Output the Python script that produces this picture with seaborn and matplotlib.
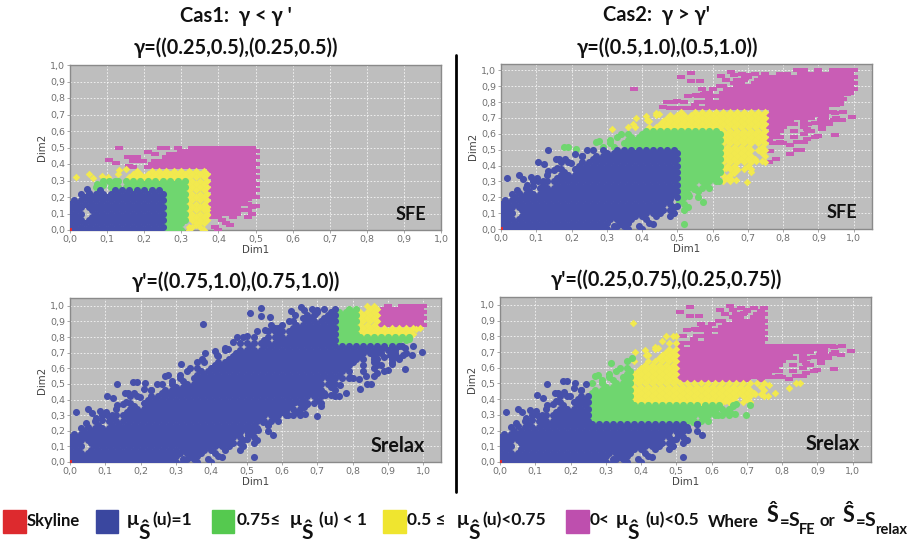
import matplotlib
matplotlib.use('Agg')
import matplotlib.pyplot as plt
from matplotlib.patches import Rectangle
import seaborn as sns
import numpy as np
import pandas as pd

# Dense part of the point cloud, one string per Dim2 level
# from 1.00 down to 0.00 (step 0.02), one char per Dim1 column (step 0.02)
cloud_rows = [
    "..........................................##.#.#####",
    ".....................................#.##.##########",
    "...................................#.###############",
    ".................................##.################",
    "..................................#.################",
    "...............................#.###################",
    "................................####################",
    ".............................#.####################.",
    "............................#####################...",
    ".............................#.##################...",
    "..........................#.#####################...",
    "...........................#.###################....",
    "........................#######################.....",
    ".........................#.####################.#...",
    "......................#.#####################.#.....",
    ".......................#####################.#......",
    ".....................#.###################.#........",
    "......................####################.#.#......",
    "...................#.####################..#.........",
    "....................####################.#.#........",
    "..................#.####################...#.........",
    "................#.######################.#..........",
    "..................#####################.............",
    "...............#.#######################............",
    "................#.##################.#...............",
    "..............#.######################..............",
    "...............#####################.#..............",
    "...........#.#######################.#...............",
    ".............########################...............",
    ".........#.#########################.#...............",
    "...........#######################.#.................",
    "........#.##########################................",
    ".........#.#####################.#...................",
    "......#.#########################...................",
    "........#######################.#....................",
    "....#.###########################...................",
    "......#.####################.#.......................",
    "...#.#########################......................",
    "....#.#####################.#........................",
    ".#.########################.........................",
    "..#########################.#.......................",
    "########################.#...........................",
    "#########################.#..........................",
    "#######################.#.#...........................",
    "##.######################.#..........................",
    "##.####################.#............................",
    "##.##################.#.#............................",
    "###################.#...............................",
    "################.##..#..............................",
    "###############.##.#................................",
    "#################.#.#................................",
]

# Loose points around the cloud
extra_dim1 = [.377, .51, .54, .54, .565, .625, .653, .662, .684, .693, .637, .995, .948, .90, .851, .819,
              .838, .868, .868, .91, .925, .943, .967, .948, .906, .877, .792, .80, .74, .722, .698, .665,
              .651, .662, .637, .618, .585, .547, .533, .505, .50, .574, .52, .43, .443, .448, .42, .387,
              .368, .33, .132, .179, .19, .212, .245, .106, .123, .132, .156, .165, .158, .181, .198, .017,
              .05, .061, .085, .102, .106, .074, .09, .045, .052, .269, .278, .314, .373, .382, .415, .448,
              .472, .50, .575, .552, .60, .58, .62, .66, .70, .72, .88, .90, .92, .86, .88, .89, .93, .95,
              .764, .96, .98, .99, .94, .91, .12, .15, .17, .21, .23, .26, .29, .31, .34, .36, .41, .44,
              .46, .49, .53, .57, .59, .61, .67, .71, .76, .78, .82, .84, .86, .89, .91, .56, .52, .48,
              .32, .34, .35, .33, .36, .35, .34, .36, .33, .37]
extra_dim2 = [.885, .955, .985, .932, .93, .965, .99, .97, .98, .95, .94, .705, .595, .588, .50, .53,
              .55, .567, .63, .63, .673, .688, .684, .732, .684, .715, .546, .54, .43, .43, .297, .308,
              .316, .355, .386, .30, .30, .253, .206, .174, .146, .17, .032, .032, .121, .153, .117, .11,
              .09, .068, .497, .514, .514, .503, .499, .425, .408, .365, .44, .44, .386, .444, .418, .32,
              .34, .316, .329, .323, .30, .28, .27, .248, .227, .55, .556, .63, .662, .70, .684, .726,
              .80, .805, .853, .847, .88, .86, .90, .92, .97, .98, .70, .72, .70, .66, .62, .67, .66, .70,
              .49, .79, .85, .88, .74, .76, .30, .37, .42, .47, .46, .50, .52, .56, .60, .64, .71, .73,
              .77, .80, .84, .88, .39, .33, .37, .36, .42, .44, .47, .50, .55, .58, .64, .24, .22, .19,
              .02, .03, .05, .06, .08, .10, .13, .14, .09, .12]
skyline_dim1 = [0.0]
skyline_dim2 = [0.0]

# Membership limits of each panel (blue, green, yellow, magenta)
limits_sfe1 = [.25, .3125, .375, .5]
limits_sfe2 = [.5, .625, .75, 1.0]
limits_relax1 = [.75, .8125, .875, 1.0]
limits_relax2 = [.25, .375, .5, .75]

tick_values = [0, .1, .2, .3, .4, .5, .6, .7, .8, .9, 1.0]
tick_labels = ['0,0', '0,1', '0,2', '0,3', '0,4', '0,5', '0,6', '0,7', '0,8', '0,9', '1,0']

BLUE = '#4650AA'
GREEN = '#6FD66F'
YELLOW = '#F2E94E'
MAGENTA = '#C95DB5'
RED = '#DD2A2E'
RECT = [(-1, -.5), (1, -.5), (1, .5), (-1, .5), (-1, -.5)]

W, H = 915, 545
sns.set_theme(style='white')
plt.rcParams['font.family'] = ['Lato', 'DejaVu Sans']

fig = plt.figure(figsize=(W / 100, H / 100), dpi=100)


def load_cloud():
    xs, ys = [], []
    for r, row in enumerate(cloud_rows):
        for c, ch in enumerate(row):
            if ch == '#':
                # every other row sits half a column over
                xs.append(c * .02 + (.01 if r % 2 else 0))
                ys.append(1 - r * .02)
    xs = np.array(xs + extra_dim1)
    ys = np.array(ys + extra_dim2)
    keep = (xs <= 1.0) & (ys <= 1.0)
    return pd.DataFrame({'dim1': xs[keep], 'dim2': ys[keep]})


def add_panel(cloud, box, xtop, ytop, limits, use_max):
    left, top, right, bottom = box
    ax = fig.add_axes([left / W, 1 - bottom / H, (right - left) / W, (bottom - top) / H])
    ax.set_facecolor('#BEBEBE')
    score = cloud[['dim1', 'dim2']].max(axis=1) if use_max else cloud[['dim1', 'dim2']].min(axis=1)
    level = np.digitize(score, limits, right=True)
    styles = [(3, MAGENTA, RECT, 30), (2, YELLOW, 'D', 15), (1, GREEN, 'o', 26), (0, BLUE, 'o', 26)]
    for lev, color, marker, size in styles:
        part = cloud[level == lev]
        sns.scatterplot(data=part, x='dim1', y='dim2', color=color, marker=marker, s=size,
                        linewidth=0, ax=ax, zorder=3, clip_on=True)
    sns.scatterplot(x=skyline_dim1, y=skyline_dim2, color=RED, marker='s', s=10, linewidth=0, ax=ax, zorder=4)
    ax.set_xlim(0, xtop)
    ax.set_ylim(0, ytop)
    ax.set_xticks(tick_values)
    ax.set_yticks(tick_values)
    ax.set_xticklabels(tick_labels, family='DejaVu Sans', fontsize=6.8, color='#707070')
    ax.set_yticklabels(tick_labels, family='DejaVu Sans', fontsize=6.8, color='#707070')
    ax.tick_params(length=2, width=.6, color='#999999', pad=1.5, left=True, bottom=True)
    ax.grid(True, color='white', linestyle=(0, (2, 2)), linewidth=.6, alpha=.85)
    ax.set_axisbelow(True)
    ax.set_xlabel('Dim1', family='DejaVu Sans', fontsize=7.4, color='#444444', labelpad=1)
    ax.set_ylabel('Dim2', family='DejaVu Sans', fontsize=7.4, color='#444444', labelpad=2)
    for side in ax.spines.values():
        side.set_color('#8A8A8A')
        side.set_linewidth(1.0)
    return ax


def txt(x, y, s, size=12, weight='bold', color='#111111', ha='left', **kw):
    fig.text(x / W, 1 - y / H, s, fontsize=size, fontweight=weight, color=color, ha=ha, va='center', **kw)


def swatch(left, right, color):
    fig.patches.append(Rectangle((left / W, 1 - 533 / H), (right - left) / W, 23 / H, color=color,
                                 transform=fig.transFigure))


cloud = load_cloud()
add_panel(cloud, (70, 65, 441, 230), 1.0, 1.0, limits_sfe1, True)
add_panel(cloud, (501, 64, 872, 229), 1.052, 1.04, limits_sfe2, True)
add_panel(cloud, (70, 298, 441, 462), 1.05, 1.05, limits_relax1, False)
add_panel(cloud, (500, 297, 871, 462), 1.052, 1.05, limits_relax2, False)

# divider between the two cases
fig.add_artist(plt.Line2D([456 / W, 456 / W], [1 - 55 / H, 1 - 492 / H], color='black', linewidth=2))

# headings
txt(236, 16, 'Cas1:  γ < γ \'', size=14.5, ha='center')
txt(656, 15, 'Cas2:  γ > γ\'', size=14.5, ha='center')
txt(236, 48, 'γ=((0.25,0.5),(0.25,0.5))', size=14.3, ha='center')
txt(667, 48, 'γ=((0.5,1.0),(0.5,1.0))', size=14.3, ha='center')
txt(236, 282, 'γ\'=((0.75,1.0),(0.75,1.0))', size=14.3, ha='center')
txt(666, 280, 'γ\'=((0.25,0.75),(0.25,0.75))', size=14.3, ha='center')
txt(411, 214, 'SFE', size=13, ha='center')
txt(842, 212, 'SFE', size=13, ha='center')
txt(398, 446, 'Srelax', size=14.2, ha='center')
txt(833, 444, 'Srelax', size=14.2, ha='center')

# legend row
swatch(3, 26, RED)
txt(27, 521, 'Skyline', size=12)
swatch(96, 118, '#3A479F')
txt(127, 520, 'μ', size=14)
txt(144, 533, 'Ŝ', size=15, ha='center')
txt(152, 520, '(u)=1', size=12.5)
swatch(212, 234, '#55C94F')
txt(237, 520, '0.75≤', size=12.5)
txt(290, 520, 'μ', size=14)
txt(307, 533, 'Ŝ', size=15, ha='center')
txt(319, 520, '(u) < 1', size=12.5)
swatch(383, 406, '#EFE52F')
txt(407, 520, '0.5 ≤', size=12.5)
txt(457, 520, 'μ', size=14)
txt(474, 533, 'Ŝ', size=15, ha='center')
txt(482, 520, '(u)<0.75', size=12.5)
swatch(566, 589, '#BE4FAE')
txt(590, 520, '0<', size=12.5)
txt(616, 520, 'μ', size=14)
txt(633, 533, 'Ŝ', size=15, ha='center')
txt(645, 520, '(u)<0.5', size=12.5)
txt(708, 522, 'Where', size=12)
txt(772, 516, 'Ŝ', size=15.5, ha='center')
txt(780, 522, '=', size=12)
txt(789, 521, 'S', size=14)
txt(799, 530, 'FE', size=10.5)
txt(820, 521, 'or', size=12)
txt(848, 516, 'Ŝ', size=15.5, ha='center')
txt(856, 522, '=', size=12)
txt(865, 521, 'S', size=14)
txt(875, 530, 'relax', size=10.5)

plt.savefig('out.png', dpi=100)
